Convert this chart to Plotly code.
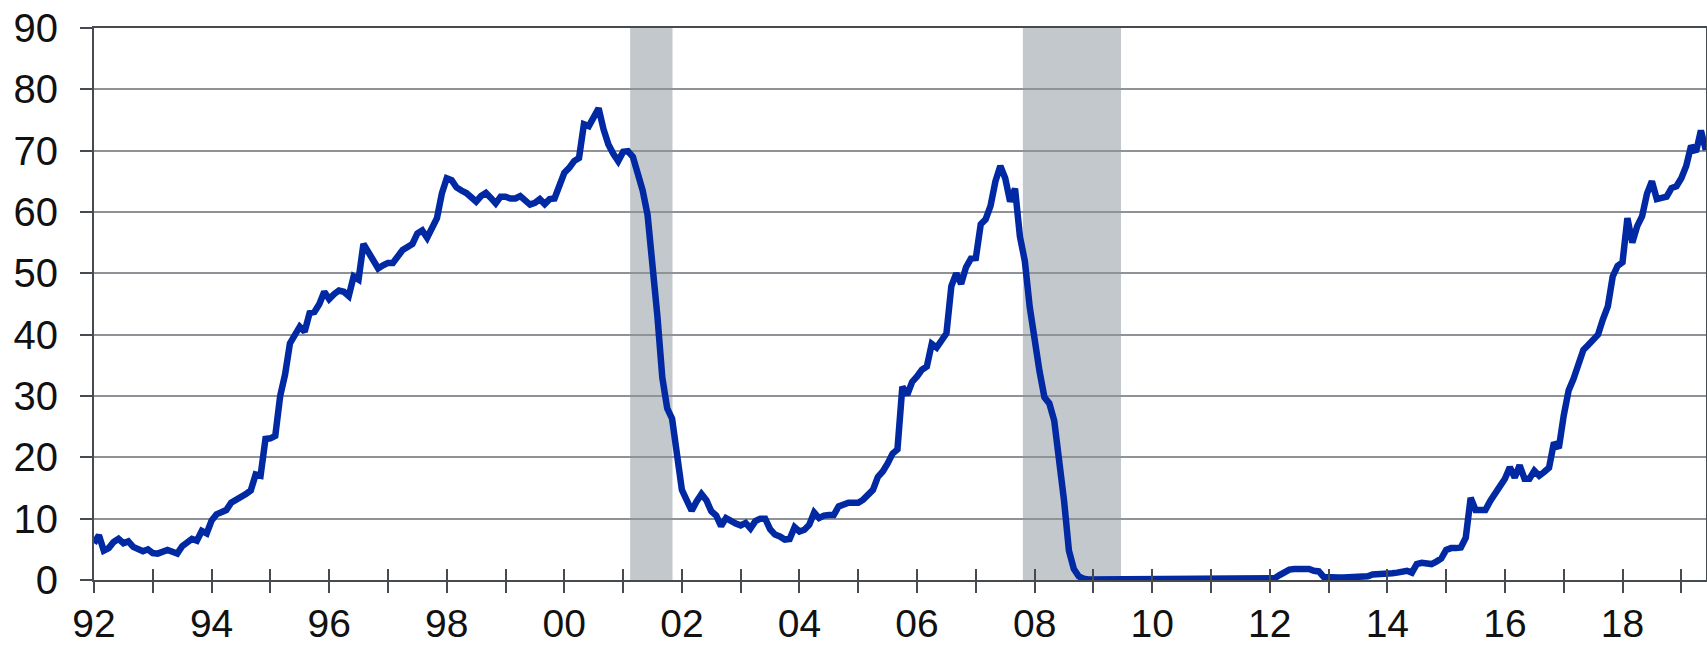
import plotly.graph_objects as go

# ---- data (monthly values, Jan..Dec) ----
v1992 = [6.0, 7.3, 4.8, 5.2, 6.2, 6.7, 6.0, 6.3, 5.4, 4.9, 4.7, 5.0]
v1993 = [4.4, 4.3, 4.5, 4.9, 4.6, 4.3, 5.5, 6.0, 6.7, 6.4, 8.0, 7.6]
v1994 = [9.7, 10.7, 11.0, 11.4, 12.6, 13.0, 13.5, 14.0, 14.6, 17.2, 17.0, 23.0]
v1995 = [23.1, 23.5, 30.0, 33.5, 38.6, 40.0, 41.3, 40.5, 43.5, 43.7, 45.0, 47.0]
v1996 = [45.8, 46.6, 47.2, 47.0, 46.3, 49.5, 49.0, 54.8, 53.5, 52.0, 50.8, 51.3]
v1997 = [51.7, 51.7, 53.0, 53.8, 54.3, 54.8, 56.5, 57.0, 55.8, 57.5, 59.0, 63.0]
v1998 = [65.5, 65.2, 64.0, 63.5, 63.1, 62.4, 61.7, 62.6, 63.1, 62.3, 61.4, 62.5]
v1999 = [62.5, 62.2, 62.2, 62.6, 61.8, 61.2, 61.5, 62.1, 61.3, 62.1, 62.2, 64.5]
v2000 = [66.4, 67.2, 68.3, 68.8, 74.3, 74.0, 75.5, 76.9, 73.5, 71.0, 69.5, 68.3]
v2001 = [69.8, 69.9, 69.0, 66.5, 63.5, 59.5, 52.0, 43.0, 33.0, 28.0, 26.3, 20.5]
v2002 = [14.7, 13.0, 11.3, 12.8, 14.0, 13.0, 11.2, 10.5, 8.8, 10.1, 9.5, 9.2]
v2003 = [8.9, 9.3, 8.4, 9.6, 10.0, 10.0, 8.3, 7.4, 7.1, 6.6, 6.7, 8.6]
v2004 = [7.9, 8.2, 9.0, 11.0, 10.1, 10.5, 10.6, 10.6, 12.0, 12.4, 12.6, 12.6]
v2005 = [12.6, 13.1, 13.8, 14.7, 16.8, 17.7, 19.0, 20.6, 21.3, 31.5, 30.2, 32.3]
v2006 = [33.2, 34.3, 34.8, 38.5, 37.9, 39.0, 40.2, 47.9, 50.0, 48.3, 51.0, 52.4]
v2007 = [52.5, 58.0, 58.8, 61.0, 65.0, 67.5, 65.5, 61.7, 63.8, 56.0, 52.0, 44.5]
v2008 = [38.2, 34.0, 29.8, 28.8, 26.0, 20.0, 13.0, 4.8, 1.8, 0.6, 0.2, 0.1]
v2009 = [0.1, 0.1, 0.1, 0.1, 0.1, 0.1, 0.1, 0.1, 0.1, 0.1, 0.1, 0.1]
v2010 = [0.1, 0.1, 0.1, 0.1, 0.1, 0.3, 0.1, 0.1, 0.1, 0.1, 0.1, 0.1]
v2011 = [0.1, 0.1, 0.1, 0.1, 0.1, 0.1, 0.1, 0.1, 0.1, 0.1, 0.2, 0.3]
v2012 = [0.3, 0.3, 0.8, 1.3, 1.7, 1.8, 1.8, 1.8, 1.8, 1.5, 1.4, 0.5]
v2013 = [0.4, 0.4, 0.4, 0.4, 0.4, 0.4, 0.4, 0.4, 0.6, 0.9, 0.9, 0.9]
v2014 = [0.9, 1.1, 1.2, 1.4, 1.5, 1.2, 2.6, 2.8, 2.8, 2.6, 3.0, 3.5]
v2015 = [4.9, 5.2, 5.2, 5.3, 6.9, 13.4, 11.4, 11.4, 11.4, 12.9, 14.3, 15.3]
v2016 = [16.5, 18.4, 16.7, 18.7, 16.5, 16.5, 17.8, 17.0, 17.6, 18.3, 22.4, 21.5]
v2017 = [26.8, 30.9, 32.8, 35.0, 37.5, 38.3, 39.0, 40.0, 42.5, 44.6, 49.5, 51.2]
v2018 = [51.8, 59.0, 55.0, 57.7, 59.3, 63.0, 65.0, 62.1, 62.3, 62.5, 63.9, 64.2]
v2019 = [65.5, 67.5, 70.8, 69.8, 73.3, 70.1]

years = list(range(1992, 2020))
series_by_year = [v1992, v1993, v1994, v1995, v1996, v1997, v1998, v1999, v2000,
                  v2001, v2002, v2003, v2004, v2005, v2006, v2007, v2008, v2009,
                  v2010, v2011, v2012, v2013, v2014, v2015, v2016, v2017, v2018, v2019]

recession_start = [2001.12, 2007.80]
recession_end = [2001.84, 2009.47]

tick_years = list(range(1992, 2020))
tick_text = [f"{y % 100:02d}" if y % 2 == 0 else "" for y in tick_years]
y_ticks = [0, 10, 20, 30, 40, 50, 60, 70, 80, 90]

# ---- build ----
x_vals, y_vals = [], []
for yr, vals in zip(years, series_by_year):
    for m, v in enumerate(vals):
        x_vals.append(yr + m / 12.0)
        y_vals.append(v)

X_RANGE = [1992.0, 2019.42]
FONT = "Liberation Sans, Arial, sans-serif"
AXIS_COL = "#474b50"
GRID_COL = "#8f9297"
FS = 40
FSX = 39

fig = go.Figure()
fig.add_trace(go.Scatter(x=x_vals, y=y_vals, mode="lines",
                         line=dict(color="#0029a3", width=6.5),
                         hoverinfo="skip", showlegend=False))
# dummy trace for the secondary x axis (inside tick marks)
fig.add_trace(go.Scatter(x=[X_RANGE[0]], y=[None], xaxis="x2", showlegend=False,
                         hoverinfo="skip"))

for s, e in zip(recession_start, recession_end):
    fig.add_shape(type="rect", xref="x", yref="paper", x0=s, x1=e, y0=0, y1=1,
                  fillcolor="#c3c8cd", line=dict(width=0), layer="below")

fig.update_layout(
    width=1707, height=647,
    margin=dict(l=94, r=1, t=28, b=67, autoexpand=False),
    paper_bgcolor="white", plot_bgcolor="white",
    font=dict(family=FONT, size=FS, color="#111111"),
    xaxis=dict(range=X_RANGE, tickmode="array", tickvals=tick_years, ticktext=tick_text,
               ticks="outside", ticklen=11, tickwidth=2, tickcolor=AXIS_COL,
               showgrid=False, zeroline=False, showline=True, linecolor=AXIS_COL,
               linewidth=2, mirror=True, tickfont=dict(size=FSX),
               ticklabelstandoff=-3, automargin=False),
    xaxis2=dict(range=X_RANGE, overlaying="x", side="bottom", tickmode="array",
                tickvals=tick_years, ticks="inside", ticklen=11, tickwidth=2,
                tickcolor=AXIS_COL, showticklabels=False, showgrid=False,
                zeroline=False, showline=False, automargin=False),
    yaxis=dict(range=[0, 90], tickmode="array", tickvals=y_ticks,
               ticks="outside", ticklen=12, tickwidth=2, tickcolor=AXIS_COL,
               showgrid=True, gridcolor=GRID_COL, gridwidth=2,
               zeroline=False, showline=True, linecolor=AXIS_COL, linewidth=2,
               mirror=True, ticklabelstandoff=14, tickfont=dict(size=FS),
               automargin=False),
    showlegend=False,
)

fig.write_html(
    "out.html",
    config={"displayModeBar": False},
    post_script="document.body.style.margin='0px';document.body.style.overflow='hidden';",
)
